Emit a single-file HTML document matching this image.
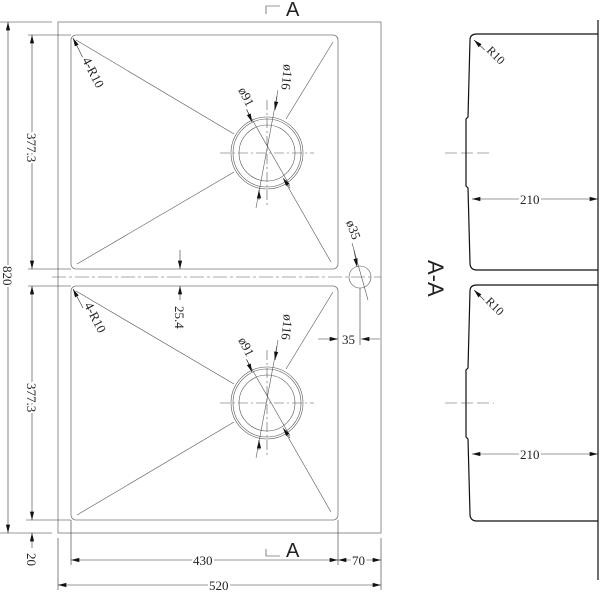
<!DOCTYPE html>
<html><head><style>body{margin:0;background:#fff}svg{display:block}text{font-family:"Liberation Serif",serif;fill:#222;stroke:#fff;stroke-width:4px;paint-order:stroke}</style></head><body>
<svg width="600" height="592" viewBox="0 0 600 592" xmlns="http://www.w3.org/2000/svg">
<defs><marker id="a" viewBox="0 0 10 6" refX="10" refY="3" markerWidth="10" markerHeight="5" markerUnits="userSpaceOnUse" orient="auto-start-reverse"><path d="M0,0.5L10,3L0,5.5z" fill="#111"/></marker></defs>
<g fill="none" stroke="#777" stroke-width="0.8">
<rect x="58" y="22" width="323" height="511"/>
<rect x="71" y="35" width="267" height="234" rx="5"/>
<rect x="71" y="286" width="267" height="234" rx="5"/>
</g>
<g stroke="#555" stroke-width="0.6" fill="none">
<line x1="76" y1="40" x2="234" y2="134"/><line x1="77" y1="264" x2="234" y2="172"/>
<line x1="333" y1="42" x2="286" y2="119"/><line x1="331" y1="262" x2="284" y2="180"/>
<circle cx="267" cy="153" r="36"/><circle cx="267" cy="153" r="34"/><circle cx="267" cy="153" r="28"/>
<line x1="220" y1="153" x2="314" y2="153" stroke-dasharray="10,3,2,3"/>
<line x1="267" y1="100" x2="267" y2="205" stroke-dasharray="10,3,2,3"/>
<line x1="245" y1="107" x2="290" y2="186"/><line x1="278" y1="90" x2="256" y2="208"/>
<line x1="76" y1="291" x2="234" y2="384"/><line x1="77" y1="515" x2="234" y2="422"/>
<line x1="333" y1="292" x2="286" y2="369"/><line x1="331" y1="512" x2="284" y2="430"/>
<circle cx="267" cy="403" r="36"/><circle cx="267" cy="403" r="34"/><circle cx="267" cy="403" r="28"/>
<line x1="220" y1="403" x2="314" y2="403" stroke-dasharray="10,3,2,3"/>
<line x1="267" y1="350" x2="267" y2="455" stroke-dasharray="10,3,2,3"/>
<line x1="245" y1="357" x2="290" y2="436"/><line x1="278" y1="340" x2="256" y2="458"/>
<line x1="52" y1="277" x2="381" y2="277" stroke-dasharray="14,3,3,3"/>
<circle cx="360" cy="277" r="11"/>
<line x1="352" y1="243" x2="368" y2="300"/>
<line x1="445" y1="153" x2="492" y2="153" stroke-dasharray="12,4"/>
<line x1="445" y1="403" x2="494" y2="403" stroke-dasharray="12,4"/>
</g>
<g stroke="#333" stroke-width="0.6" fill="none" marker-end="url(#a)">
<line x1="83" y1="58" x2="73" y2="38"/><line x1="83" y1="308" x2="73" y2="289"/>
<line x1="247" y1="110" x2="252" y2="122"/><line x1="277" y1="96" x2="275" y2="110"/>
<line x1="259" y1="200" x2="259" y2="190"/><line x1="290" y1="188" x2="283" y2="178"/>
<line x1="247" y1="360" x2="252" y2="372"/><line x1="277" y1="346" x2="275" y2="360"/>
<line x1="259" y1="450" x2="259" y2="440"/><line x1="290" y1="438" x2="283" y2="428"/>
<line x1="354" y1="250" x2="357" y2="267"/>
<line x1="180" y1="250" x2="180" y2="269"/><line x1="180" y1="300" x2="180" y2="286"/>
<line x1="488" y1="53" x2="474" y2="40"/><line x1="488" y1="304" x2="474" y2="290"/>
</g>
<g stroke="#333" stroke-width="0.6" fill="none">
<line x1="8" y1="22" x2="8" y2="533" marker-start="url(#a)" marker-end="url(#a)"/>
<line x1="0" y1="22" x2="52" y2="22"/><line x1="0" y1="533" x2="52" y2="533"/>
<line x1="32" y1="35" x2="32" y2="269" marker-start="url(#a)" marker-end="url(#a)"/>
<line x1="28" y1="35" x2="71" y2="35"/><line x1="28" y1="269" x2="71" y2="269"/>
<line x1="32" y1="286" x2="32" y2="520" marker-start="url(#a)" marker-end="url(#a)"/>
<line x1="28" y1="286" x2="71" y2="286"/><line x1="26" y1="520" x2="71" y2="520"/>
<line x1="32" y1="548" x2="32" y2="533" marker-end="url(#a)"/>
<line x1="71" y1="520" x2="71" y2="565"/><line x1="338" y1="520" x2="338" y2="565"/><line x1="58" y1="538" x2="58" y2="590"/><line x1="381" y1="538" x2="381" y2="590"/>
<line x1="71" y1="560" x2="338" y2="560" marker-start="url(#a)" marker-end="url(#a)"/>
<line x1="338" y1="560" x2="381" y2="560" marker-start="url(#a)" marker-end="url(#a)"/>
<line x1="58" y1="585" x2="381" y2="585" marker-start="url(#a)" marker-end="url(#a)"/>
<line x1="318" y1="339" x2="338" y2="339" marker-end="url(#a)"/><line x1="380" y1="339" x2="361" y2="339" marker-end="url(#a)"/>
<line x1="360" y1="288" x2="360" y2="345"/>
<line x1="472" y1="199" x2="598" y2="199" marker-start="url(#a)" marker-end="url(#a)"/>
<line x1="472" y1="454" x2="598" y2="454" marker-start="url(#a)" marker-end="url(#a)"/>
<path d="M266,14V6H280M266,549V556H280"/>
</g>
<g fill="none" stroke="#111" stroke-width="1.2">
<path d="M598,20V580"/>
<path d="M598,34H477Q470,34 470,40L468,117L466,119V186L468,188L470,263Q470,270 477,270H598"/>
<path d="M598,285H477Q470,285 470,291L468,368L466,370V437L468,439L470,514Q470,521 477,521H598"/>
</g>
<g font-size="13">
<text x="286" y="16" font-size="20" style="font-family:'Liberation Sans'">A</text>
<text x="286" y="557" font-size="20" style="font-family:'Liberation Sans'">A</text>
<text transform="translate(428,260) rotate(90)" font-size="22" style="font-family:'Liberation Sans'">A-A</text>
<text transform="translate(27,133) rotate(90)">377.3</text>
<text transform="translate(27,383) rotate(90)">377.3</text>
<text transform="translate(3,266) rotate(90)">820</text>
<text transform="translate(27,553) rotate(90)">20</text>
<text transform="translate(175,306) rotate(90)">25.4</text>
<text transform="translate(82,60) rotate(63)">4-R10</text>
<text transform="translate(84,305) rotate(63)">4-R10</text>
<text transform="translate(238,90) rotate(63)">ø91</text>
<text transform="translate(284,64) rotate(96)">ø116</text>
<text transform="translate(238,340) rotate(63)">ø91</text>
<text transform="translate(284,314) rotate(96)">ø116</text>
<text transform="translate(346,222) rotate(70)">ø35</text>
<text x="342" y="344">35</text>
<text x="193" y="565">430</text>
<text x="352" y="565">70</text>
<text x="209" y="590">520</text>
<text x="520" y="204">210</text>
<text x="520" y="459">210</text>
<text transform="translate(486,51) rotate(45)" font-size="12">R10</text>
<text transform="translate(485,302) rotate(45)" font-size="12">R10</text>
</g>
</svg>
</body></html>
